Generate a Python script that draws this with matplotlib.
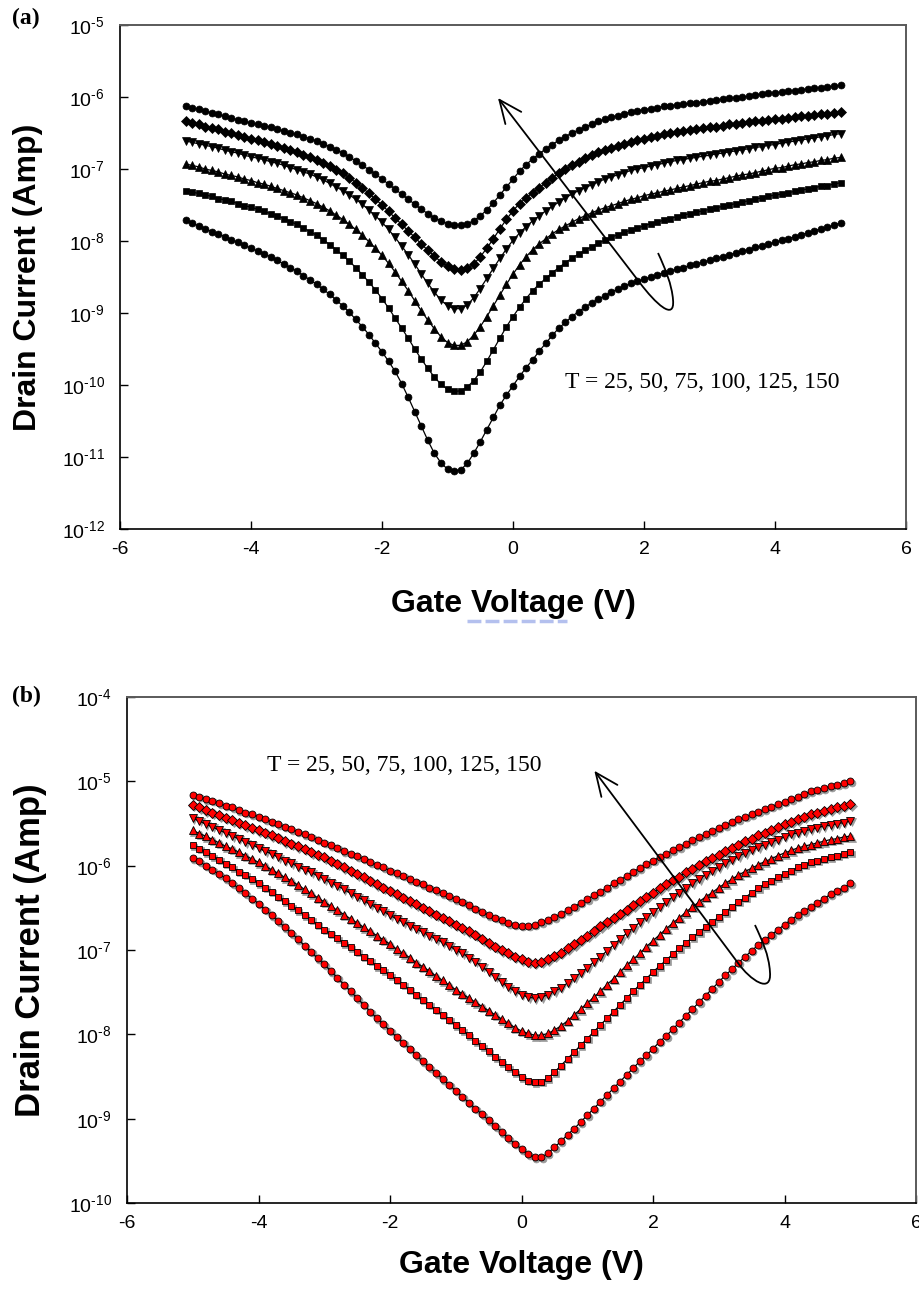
import numpy as np
import matplotlib
matplotlib.use("Agg")
import matplotlib.pyplot as plt
from matplotlib import transforms
from matplotlib.patches import FancyArrowPatch, PathPatch
from matplotlib.path import Path
from matplotlib.lines import Line2D

plt.rcParams['font.family'] = ['Liberation Sans', 'DejaVu Sans']
plt.rcParams['mathtext.fontset'] = 'custom'
plt.rcParams['mathtext.rm'] = 'Liberation Sans'
plt.rcParams['mathtext.default'] = 'regular'

# ---------------- data ----------------
gate_voltage = np.linspace(-5.0, 5.0, 101)   # V, 0.1 V sweep
temperatures = [25, 50, 75, 100, 125, 150]

# panel (a): log10(drain current / A)
log_id_a150 = [-6.12,-6.15,-6.17,-6.20,-6.22,-6.24,-6.27,-6.29,-6.32,-6.34,
               -6.36,-6.38,-6.40,-6.42,-6.45,-6.47,-6.50,-6.52,-6.55,-6.58,
               -6.61,-6.65,-6.69,-6.73,-6.78,-6.83,-6.89,-6.95,-7.01,-7.07,
               -7.14,-7.21,-7.28,-7.35,-7.42,-7.49,-7.56,-7.62,-7.68,-7.72,
               -7.76,-7.78,-7.78,-7.76,-7.72,-7.65,-7.57,-7.47,-7.36,-7.25,
               -7.14,-7.03,-6.94,-6.86,-6.79,-6.72,-6.66,-6.60,-6.55,-6.50,
               -6.46,-6.42,-6.38,-6.34,-6.31,-6.28,-6.26,-6.23,-6.21,-6.19,
               -6.18,-6.16,-6.15,-6.13,-6.12,-6.11,-6.10,-6.09,-6.08,-6.07,
               -6.05,-6.04,-6.03,-6.02,-6.01,-6.00,-5.99,-5.97,-5.96,-5.95,
               -5.94,-5.93,-5.92,-5.91,-5.90,-5.89,-5.88,-5.87,-5.86,-5.85,
               -5.84]
log_id_a125 = [-6.34,-6.36,-6.38,-6.41,-6.43,-6.45,-6.48,-6.50,-6.53,-6.55,
               -6.58,-6.60,-6.63,-6.65,-6.68,-6.71,-6.74,-6.77,-6.80,-6.83,
               -6.87,-6.91,-6.96,-7.01,-7.06,-7.12,-7.19,-7.26,-7.34,-7.42,
               -7.50,-7.59,-7.68,-7.77,-7.86,-7.95,-8.04,-8.13,-8.21,-8.29,
               -8.35,-8.39,-8.40,-8.38,-8.32,-8.22,-8.10,-7.97,-7.83,-7.70,
               -7.58,-7.48,-7.40,-7.33,-7.26,-7.19,-7.12,-7.06,-7.00,-6.95,
               -6.90,-6.85,-6.81,-6.77,-6.74,-6.71,-6.68,-6.65,-6.62,-6.60,
               -6.58,-6.56,-6.54,-6.52,-6.50,-6.49,-6.47,-6.46,-6.44,-6.43,
               -6.42,-6.41,-6.40,-6.38,-6.37,-6.36,-6.35,-6.34,-6.33,-6.32,
               -6.31,-6.30,-6.29,-6.28,-6.27,-6.26,-6.25,-6.24,-6.23,-6.22,
               -6.21]
log_id_a100 = [-6.61,-6.63,-6.65,-6.67,-6.69,-6.71,-6.74,-6.76,-6.78,-6.81,
               -6.83,-6.85,-6.87,-6.90,-6.92,-6.95,-6.98,-7.01,-7.04,-7.07,
               -7.11,-7.15,-7.20,-7.25,-7.30,-7.36,-7.42,-7.49,-7.57,-7.65,
               -7.74,-7.84,-7.95,-8.07,-8.19,-8.32,-8.46,-8.59,-8.71,-8.82,
               -8.90,-8.94,-8.94,-8.89,-8.79,-8.66,-8.52,-8.38,-8.24,-8.11,
               -7.99,-7.89,-7.80,-7.72,-7.65,-7.58,-7.52,-7.46,-7.40,-7.35,
               -7.30,-7.26,-7.22,-7.18,-7.14,-7.11,-7.08,-7.05,-7.02,-7.00,
               -6.98,-6.96,-6.94,-6.92,-6.90,-6.88,-6.87,-6.85,-6.84,-6.82,
               -6.81,-6.79,-6.78,-6.76,-6.75,-6.73,-6.72,-6.70,-6.69,-6.67,
               -6.66,-6.64,-6.63,-6.61,-6.60,-6.58,-6.57,-6.55,-6.54,-6.52,
               -6.51]
log_id_a75 = [-6.93,-6.95,-6.97,-7.00,-7.02,-7.04,-7.07,-7.09,-7.11,-7.14,
              -7.16,-7.19,-7.21,-7.24,-7.27,-7.30,-7.33,-7.36,-7.40,-7.44,
              -7.48,-7.53,-7.58,-7.64,-7.70,-7.77,-7.84,-7.92,-8.01,-8.10,
              -8.20,-8.31,-8.43,-8.56,-8.69,-8.83,-8.97,-9.10,-9.22,-9.33,
              -9.41,-9.45,-9.45,-9.40,-9.31,-9.19,-9.05,-8.90,-8.75,-8.60,
              -8.46,-8.33,-8.22,-8.12,-8.04,-7.97,-7.90,-7.84,-7.79,-7.74,
              -7.69,-7.65,-7.61,-7.57,-7.54,-7.51,-7.48,-7.45,-7.42,-7.40,
              -7.37,-7.35,-7.33,-7.31,-7.29,-7.27,-7.25,-7.23,-7.21,-7.19,
              -7.17,-7.16,-7.14,-7.12,-7.10,-7.08,-7.07,-7.05,-7.03,-7.01,
              -6.99,-6.98,-6.96,-6.94,-6.93,-6.91,-6.90,-6.88,-6.87,-6.85,
              -6.84]
log_id_a50 = [-7.30,-7.32,-7.34,-7.36,-7.38,-7.41,-7.43,-7.45,-7.48,-7.51,
              -7.53,-7.56,-7.59,-7.62,-7.65,-7.69,-7.73,-7.77,-7.82,-7.87,
              -7.92,-7.98,-8.05,-8.12,-8.20,-8.28,-8.37,-8.47,-8.57,-8.68,
              -8.80,-8.93,-9.07,-9.21,-9.35,-9.50,-9.64,-9.77,-9.89,-9.99,
              -10.06,-10.09,-10.08,-10.03,-9.94,-9.82,-9.67,-9.51,-9.35,-9.19,
              -9.05,-8.92,-8.80,-8.69,-8.60,-8.52,-8.44,-8.37,-8.30,-8.24,
              -8.18,-8.13,-8.08,-8.03,-7.99,-7.95,-7.91,-7.88,-7.85,-7.82,
              -7.79,-7.76,-7.74,-7.71,-7.69,-7.66,-7.64,-7.62,-7.60,-7.58,
              -7.56,-7.54,-7.52,-7.50,-7.48,-7.46,-7.44,-7.42,-7.40,-7.38,
              -7.36,-7.35,-7.33,-7.31,-7.29,-7.28,-7.26,-7.24,-7.23,-7.21,
              -7.19]
log_id_a25 = [-7.71,-7.75,-7.79,-7.83,-7.87,-7.90,-7.94,-7.98,-8.02,-8.06,
              -8.10,-8.14,-8.18,-8.22,-8.27,-8.32,-8.37,-8.42,-8.48,-8.54,
              -8.60,-8.67,-8.74,-8.82,-8.90,-8.99,-9.09,-9.19,-9.30,-9.42,
              -9.54,-9.67,-9.81,-9.98,-10.17,-10.37,-10.57,-10.77,-10.95,-11.08,
              -11.17,-11.19,-11.18,-11.09,-10.95,-10.79,-10.62,-10.45,-10.28,-10.14,
              -10.01,-9.88,-9.76,-9.65,-9.53,-9.42,-9.31,-9.21,-9.13,-9.05,
              -8.98,-8.92,-8.86,-8.81,-8.76,-8.71,-8.67,-8.63,-8.59,-8.56,
              -8.53,-8.50,-8.47,-8.44,-8.42,-8.39,-8.37,-8.34,-8.32,-8.29,
              -8.27,-8.24,-8.22,-8.19,-8.17,-8.14,-8.12,-8.09,-8.07,-8.04,
              -8.02,-7.99,-7.97,-7.94,-7.91,-7.89,-7.86,-7.83,-7.81,-7.78,
              -7.75]

# panel (b): log10(drain current / A)
log_id_b150 = [-5.16,-5.18,-5.21,-5.23,-5.26,-5.29,-5.31,-5.34,-5.37,-5.39,
               -5.42,-5.45,-5.48,-5.51,-5.54,-5.57,-5.60,-5.63,-5.66,-5.69,
               -5.73,-5.76,-5.79,-5.83,-5.86,-5.89,-5.92,-5.96,-5.99,-6.02,
               -6.06,-6.09,-6.12,-6.16,-6.19,-6.22,-6.26,-6.29,-6.33,-6.36,
               -6.40,-6.43,-6.47,-6.51,-6.55,-6.59,-6.62,-6.65,-6.68,-6.70,
               -6.71,-6.71,-6.70,-6.67,-6.64,-6.61,-6.57,-6.53,-6.49,-6.44,
               -6.40,-6.35,-6.31,-6.26,-6.21,-6.17,-6.12,-6.07,-6.03,-5.98,
               -5.94,-5.90,-5.86,-5.82,-5.78,-5.74,-5.70,-5.66,-5.63,-5.59,
               -5.55,-5.52,-5.48,-5.45,-5.42,-5.39,-5.36,-5.33,-5.30,-5.27,
               -5.24,-5.21,-5.18,-5.15,-5.12,-5.10,-5.08,-5.06,-5.04,-5.02,
               -5.00]
log_id_b125 = [-5.28,-5.31,-5.34,-5.37,-5.40,-5.43,-5.46,-5.49,-5.52,-5.55,
               -5.58,-5.61,-5.64,-5.67,-5.71,-5.74,-5.77,-5.80,-5.84,-5.87,
               -5.90,-5.94,-5.98,-6.02,-6.06,-6.10,-6.14,-6.18,-6.22,-6.26,
               -6.30,-6.34,-6.38,-6.42,-6.46,-6.50,-6.54,-6.58,-6.62,-6.66,
               -6.70,-6.74,-6.78,-6.82,-6.87,-6.92,-6.96,-7.00,-7.04,-7.08,
               -7.11,-7.14,-7.15,-7.14,-7.11,-7.07,-7.03,-6.98,-6.93,-6.88,
               -6.83,-6.78,-6.72,-6.67,-6.62,-6.57,-6.52,-6.47,-6.42,-6.37,
               -6.32,-6.27,-6.22,-6.17,-6.13,-6.08,-6.04,-5.99,-5.95,-5.91,
               -5.87,-5.83,-5.79,-5.75,-5.71,-5.68,-5.64,-5.61,-5.58,-5.54,
               -5.51,-5.48,-5.45,-5.42,-5.39,-5.37,-5.35,-5.33,-5.31,-5.29,
               -5.27]
log_id_b100 = [-5.44,-5.47,-5.51,-5.54,-5.58,-5.61,-5.65,-5.68,-5.72,-5.75,
               -5.79,-5.83,-5.86,-5.90,-5.94,-5.97,-6.01,-6.05,-6.08,-6.12,
               -6.16,-6.20,-6.24,-6.28,-6.33,-6.37,-6.41,-6.46,-6.50,-6.54,
               -6.59,-6.63,-6.67,-6.71,-6.75,-6.79,-6.83,-6.87,-6.91,-6.95,
               -7.00,-7.04,-7.09,-7.14,-7.20,-7.26,-7.32,-7.38,-7.44,-7.49,
               -7.53,-7.56,-7.57,-7.56,-7.53,-7.49,-7.45,-7.39,-7.33,-7.27,
               -7.21,-7.14,-7.08,-7.01,-6.94,-6.87,-6.80,-6.74,-6.67,-6.61,
               -6.55,-6.49,-6.43,-6.37,-6.32,-6.26,-6.21,-6.16,-6.11,-6.06,
               -6.02,-5.97,-5.93,-5.89,-5.85,-5.81,-5.78,-5.75,-5.72,-5.69,
               -5.66,-5.63,-5.61,-5.59,-5.57,-5.55,-5.53,-5.52,-5.50,-5.49,
               -5.47]
log_id_b75 = [-5.58,-5.62,-5.65,-5.69,-5.73,-5.77,-5.80,-5.84,-5.88,-5.92,
              -5.96,-6.00,-6.05,-6.09,-6.14,-6.18,-6.23,-6.28,-6.33,-6.38,
              -6.43,-6.48,-6.53,-6.58,-6.63,-6.68,-6.73,-6.78,-6.83,-6.88,
              -6.93,-6.99,-7.04,-7.09,-7.15,-7.20,-7.25,-7.31,-7.36,-7.42,
              -7.47,-7.52,-7.57,-7.62,-7.67,-7.72,-7.77,-7.82,-7.87,-7.92,
              -7.96,-7.99,-8.01,-8.01,-7.99,-7.95,-7.90,-7.84,-7.77,-7.70,
              -7.63,-7.56,-7.49,-7.41,-7.34,-7.26,-7.18,-7.11,-7.04,-6.96,
              -6.89,-6.82,-6.75,-6.68,-6.62,-6.55,-6.49,-6.43,-6.37,-6.32,
              -6.26,-6.21,-6.16,-6.11,-6.07,-6.03,-5.99,-5.95,-5.92,-5.88,
              -5.85,-5.82,-5.79,-5.77,-5.75,-5.73,-5.71,-5.69,-5.68,-5.66,
              -5.65]
log_id_b50 = [-5.76,-5.80,-5.84,-5.89,-5.93,-5.98,-6.02,-6.07,-6.11,-6.16,
              -6.21,-6.26,-6.31,-6.37,-6.42,-6.48,-6.53,-6.59,-6.64,-6.70,
              -6.76,-6.81,-6.86,-6.92,-6.97,-7.02,-7.08,-7.13,-7.19,-7.24,
              -7.30,-7.35,-7.41,-7.47,-7.53,-7.59,-7.65,-7.71,-7.77,-7.83,
              -7.89,-7.95,-8.01,-8.08,-8.14,-8.20,-8.27,-8.33,-8.39,-8.45,
              -8.51,-8.55,-8.57,-8.56,-8.52,-8.45,-8.37,-8.29,-8.21,-8.13,
              -8.05,-7.97,-7.89,-7.81,-7.73,-7.65,-7.57,-7.49,-7.41,-7.34,
              -7.26,-7.19,-7.12,-7.05,-6.98,-6.92,-6.85,-6.79,-6.73,-6.67,
              -6.61,-6.55,-6.49,-6.43,-6.38,-6.32,-6.27,-6.22,-6.18,-6.14,
              -6.10,-6.06,-6.02,-5.99,-5.96,-5.94,-5.92,-5.90,-5.88,-5.86,
              -5.84]
log_id_b25 = [-5.91,-5.95,-6.00,-6.05,-6.10,-6.15,-6.21,-6.27,-6.33,-6.39,
              -6.45,-6.52,-6.59,-6.66,-6.73,-6.80,-6.87,-6.95,-7.02,-7.10,
              -7.17,-7.25,-7.33,-7.41,-7.49,-7.57,-7.65,-7.73,-7.81,-7.88,
              -7.96,-8.03,-8.10,-8.17,-8.25,-8.32,-8.39,-8.46,-8.53,-8.60,
              -8.67,-8.74,-8.81,-8.88,-8.95,-9.02,-9.09,-9.16,-9.23,-9.30,
              -9.36,-9.42,-9.46,-9.46,-9.41,-9.34,-9.27,-9.19,-9.12,-9.04,
              -8.96,-8.88,-8.80,-8.72,-8.64,-8.56,-8.48,-8.40,-8.32,-8.25,
              -8.17,-8.09,-8.02,-7.94,-7.86,-7.78,-7.70,-7.62,-7.54,-7.46,
              -7.38,-7.30,-7.23,-7.15,-7.08,-7.01,-6.94,-6.88,-6.82,-6.76,
              -6.70,-6.64,-6.59,-6.54,-6.49,-6.44,-6.39,-6.34,-6.30,-6.26,
              -6.21]

x_ticks = [-6, -4, -2, 0, 2, 4, 6]
x_tick_labels = ['-6', '-4', '-2', '0', '2', '4', '6']
y_exponents_a = [-12, -11, -10, -9, -8, -7, -6, -5]
y_exponents_b = [-10, -9, -8, -7, -6, -5, -4]
annotation_text = 'T = 25, 50, 75, 100, 125, 150'

series_a = [log_id_a25, log_id_a50, log_id_a75, log_id_a100, log_id_a125, log_id_a150]
series_b = [log_id_b25, log_id_b50, log_id_b75, log_id_b100, log_id_b125, log_id_b150]
for s in series_a + series_b:
    assert len(s) == len(gate_voltage)

markers = ['o', 's', '^', 'v', 'D', 'o']
msizes = [5.0, 4.8, 5.6, 5.6, 4.6, 5.0]

# ---------------- figure ----------------
W, H = 919, 1293
fig = plt.figure(figsize=(W / 100, H / 100), dpi=100)

def frac_axes(l, t, r, b):
    return fig.add_axes([l / W, 1 - b / H, (r - l) / W, (b - t) / H])

axA = frac_axes(120, 25, 906, 529)
axB = frac_axes(127, 697, 916, 1203)

def exp_label(k):
    return r'$10^{\text{-%d}}$' % abs(k)

def style_axes(ax, exps, xlab_y, ylab_x, ylab_size):
    ax.set_yscale('log')
    ax.set_xlim(-6, 6)
    ax.set_ylim(10.0 ** exps[0], 10.0 ** exps[-1])
    ax.set_xticks(x_ticks)
    ax.set_xticklabels(x_tick_labels)
    ax.yaxis.set_minor_locator(matplotlib.ticker.NullLocator())
    ax.set_yticks([10.0 ** k for k in exps])
    ax.set_yticklabels([exp_label(k) for k in exps])
    ax.tick_params(direction='in', length=6, width=1.0, labelsize=14, color='k')
    ax.tick_params(axis='y', pad=11)
    ax.tick_params(axis='x', pad=9)
    for side in ['left', 'bottom']:
        ax.spines[side].set_color('black')
        ax.spines[side].set_linewidth(1.2)
    for side in ['top', 'right']:
        ax.spines[side].set_color('#5a5a5a')
        ax.spines[side].set_linewidth(1.4)
    ax.set_xlabel('Gate Voltage (V)', fontsize=23, fontweight='bold')
    ax.set_ylabel('Drain Current (Amp)', fontsize=ylab_size, fontweight='bold')
    ax.xaxis.set_label_coords(0.5, xlab_y)
    ax.xaxis.label.set_va('center')
    ax.yaxis.set_label_coords(ylab_x, 0.5)
    ax.yaxis.label.set_va('center')

# panel (a)
for vals, m, ms in zip(series_a, markers, msizes):
    axA.plot(gate_voltage, np.power(10.0, vals), color='black', lw=0.9,
             marker=m, ms=ms, mfc='black', mec='black', mew=0.5)
style_axes(axA, y_exponents_a, -0.148, -0.117, 23)

# panel (b) with soft grey marker shadow
shadow = transforms.offset_copy(axB.transData, fig=fig, x=1.5, y=-1.5, units='dots')
for vals, m, ms in zip(series_b, markers, msizes):
    axB.plot(gate_voltage, np.power(10.0, vals), linestyle='none', marker=m, ms=ms,
             mfc='#9a9a9a', mec='#9a9a9a', mew=0.5, transform=shadow, zorder=1.5)
for vals, m, ms in zip(series_b, markers, msizes):
    axB.plot(gate_voltage, np.power(10.0, vals), color='black', lw=0.9,
             marker=m, ms=ms, mfc='#ff0000', mec='black', mew=0.6, zorder=2)
style_axes(axB, y_exponents_b, -0.123, -0.122, 25)

# annotations
def curl_arrow(ax, tip, start, hook):
    arr = FancyArrowPatch(start, tip, transform=ax.transAxes,
                          arrowstyle='->,head_length=1.65,head_width=0.72',
                          mutation_scale=10, lw=1.3, color='black',
                          shrinkA=0, shrinkB=0, zorder=5)
    ax.add_patch(arr)
    verts = [start] + hook
    codes = [Path.MOVETO] + [Path.CURVE4] * (len(hook))
    ax.add_patch(PathPatch(Path(verts, codes), transform=ax.transAxes,
                           fill=False, lw=1.3, ec='black', zorder=5))

curl_arrow(axA, (0.4809, 0.8552), (0.6616, 0.4881),
           [(0.6807, 0.4484), (0.7061, 0.4107), (0.7036, 0.4544),
            (0.7023, 0.4841), (0.6934, 0.5179), (0.6845, 0.5476)])
curl_arrow(axB, (0.5923, 0.8543), (0.7744, 0.4743),
           [(0.7896, 0.4407), (0.8175, 0.4111), (0.8149, 0.4565),
            (0.8137, 0.4901), (0.8048, 0.5198), (0.7959, 0.5494)])

axA.text(0.5662, 0.2897, annotation_text, transform=axA.transAxes,
         fontsize=17, family=['Liberation Serif', 'DejaVu Serif'], va='center', ha='left')
axB.text(0.1774, 0.8656, annotation_text, transform=axB.transAxes,
         fontsize=17, family=['Liberation Serif', 'DejaVu Serif'], va='center', ha='left')

fig.text(12 / W, 1 - 18 / H, '(a)', fontsize=17, fontweight='bold',
         family=['Liberation Serif', 'DejaVu Serif'], va='center', ha='left')
fig.text(12 / W, 1 - 696 / H, '(b)', fontsize=17, fontweight='bold',
         family=['Liberation Serif', 'DejaVu Serif'], va='center', ha='left')

# faint blue dashed smudge beneath the panel (a) axis title
fig.add_artist(Line2D([467 / W, 567 / W], [1 - 621 / H, 1 - 621 / H],
                      color='#b4c0ee', lw=2.5, linestyle=(0, (4, 1.2))))

fig.savefig('out.png', dpi=100)
